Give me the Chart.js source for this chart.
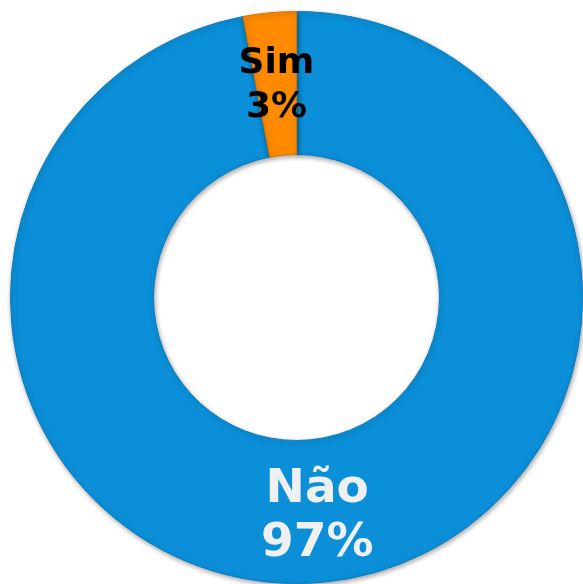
<!DOCTYPE html>
<html>
<head>
<meta charset="utf-8">
<script src="https://cdn.jsdelivr.net/npm/chart.js@4"></script>
<style>
  html, body { margin: 0; padding: 0; background: #fff; }
  #wrap { width: 583px; height: 584px; }
</style>
</head>
<body>
<div id="wrap"><canvas id="myChart"></canvas></div>
<script>
const labels = ['Não', 'Sim'];
const values = [97, 3];
const percentLabels = ['97%', '3%'];

const backgroundColor = ['#0b8fd8', '#ff8a00'];
const borderColor = ['#0a7cc0', '#d97400'];

// soft drop shadow under the ring
const ringShadow = {
    id: 'ringShadow',
    beforeDatasetsDraw(chart) {
        const ctx = chart.ctx;
        ctx.save();
        ctx.shadowColor = 'rgba(0, 0, 0, 0.35)';
        ctx.shadowBlur = 5;
        ctx.shadowOffsetX = 1;
        ctx.shadowOffsetY = 2;
    },
    afterDatasetsDraw(chart) {
        chart.ctx.restore();
    }
};

// draws "label / percent" text inside each slice
const sliceLabels = {
    id: 'sliceLabels',
    afterDatasetsDraw(chart) {
        const ctx = chart.ctx;
        const meta = chart.getDatasetMeta(0);
        const styles = [
            {color: '#eef0f2', size: 47, gap: 54, r: 0.77},
            {color: '#000000', size: 36, gap: 44, r: 0.745}
        ];
        meta.data.forEach((arc, i) => {
            const p = arc.getProps(['x', 'y', 'startAngle', 'endAngle', 'outerRadius'], true);
            const mid = (p.startAngle + p.endAngle) / 2;
            const s = styles[i];
            const r = p.outerRadius * s.r;
            const x = p.x + Math.cos(mid) * r;
            const y = p.y + Math.sin(mid) * r;
            ctx.save();
            ctx.shadowColor = 'transparent';
            ctx.fillStyle = s.color;
            ctx.font = 'bold ' + s.size + 'px "DejaVu Sans"';
            ctx.textAlign = 'center';
            ctx.textBaseline = 'middle';
            ctx.fillText(labels[i], x, y - s.gap / 2);
            ctx.fillText(percentLabels[i], x, y + s.gap / 2);
            ctx.restore();
        });
    }
};

const ctx = document.getElementById('myChart');
new Chart(ctx, {
    type: 'doughnut',
    data: {
        labels,
        datasets: [{
            data: values,
            backgroundColor,
            borderColor,
            borderWidth: 1
        }]
    },
    options: {
        responsive: true,
        maintainAspectRatio: false,
        animation: false,
        cutout: '50%',
        layout: {padding: {left: 10, top: 11, right: 0, bottom: 0}},
        plugins: {
            legend: {display: false},
            tooltip: {enabled: false}
        }
    },
    plugins: [ringShadow, sliceLabels]
});
</script>
</body>
</html>
